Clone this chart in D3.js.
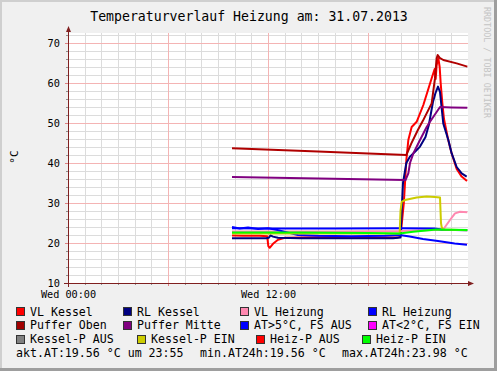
<!DOCTYPE html>
<html><head><meta charset="utf-8">
<script src="https://cdn.jsdelivr.net/npm/d3@7/dist/d3.min.js"></script>
<style>
body{margin:0;background:#f0f0f0}
svg{display:block}
text{font-family:"DejaVu Sans Mono",monospace;fill:#000}
</style>
</head><body>
<svg id="c" width="497" height="371"></svg>
<script>
// ---------- data (hour of day, °C) ----------
const title = "Temperaturverlauf Heizung am: 31.07.2013";
const yLabel = "°C";
const xTickHours = [0, 12];
const xTickLabels = ["Wed 00:00", "Wed 12:00"];
const yTickValues = [10, 20, 30, 40, 50, 60, 70];

const vlKessel = [[9.84,21.9],[10.5,21.8],[11.5,21.8],[11.95,21.7],[12.02,19.2],[12.1,18.8],[12.3,19.8],[12.6,20.8],[13.0,21.3],[14,21.4],[16,21.5],[18,21.4],[19.8,21.4],[19.95,21.6],[20.15,30],[20.3,40.7],[20.42,45.75],[20.62,49],[20.92,50.3],[21.32,54.5],[21.82,61.2],[22.0,63.5],[22.06,61],[22.12,64.5],[22.22,66.2],[22.3,64],[22.36,60],[22.46,55],[22.56,51],[22.8,46],[23.02,42.4],[23.32,38.5],[23.62,36.6],[23.94,35.5]];
const rlKessel = [[9.84,21.2],[11.9,21.2],[12.05,21.3],[12.15,21.9],[12.3,21.6],[12.6,21.3],[14,21.2],[17,21.2],[19.5,21.2],[19.95,21.4],[20.02,28],[20.1,35],[20.3,40],[20.52,41.6],[20.82,42.8],[21.12,44.1],[21.45,46.5],[21.65,49.5],[21.9,55.3],[22.05,57.5],[22.2,59.1],[22.32,57.8],[22.42,53.7],[22.52,49.8],[22.82,45.75],[23.02,42.4],[23.32,39],[23.62,37.4],[23.92,36.6]];
const vlHeizung = [[9.84,22.9],[16,22.9],[20,23.0],[22.5,23.3],[22.62,24],[22.92,25.75],[23.22,27.4],[23.52,27.8],[23.96,27.7]];
const rlHeizung = [[9.84,23.7],[12,23.6],[16,23.6],[20,23.7],[22,23.6],[22.5,23.3],[23.96,23.2]];
const pufferOben = [[9.84,43.7],[15,42.9],[20.3,42.0],[20.6,44.9],[21.0,48.3],[21.3,50.6],[21.82,54.9],[22.02,61.2],[22.12,66.2],[22.18,67],[22.3,66.3],[22.52,65.75],[23.32,64.9],[23.96,64.1]];
const pufferMitte = [[9.84,36.5],[20.25,35.75],[20.42,37.4],[20.52,40],[20.72,42.4],[21.12,45.75],[21.52,49],[21.72,50.3],[22.32,54],[23,53.9],[23.96,53.8]];
const aussen = [[9.84,23.98],[10.3,23.6],[10.8,23.9],[11.4,23.5],[12,23.7],[12.5,23.3],[13.2,22.6],[13.8,22.0],[15,21.8],[17,21.7],[19,21.8],[19.9,22.0],[20.5,21.6],[21.3,21.0],[22.2,20.5],[23.2,19.9],[23.94,19.56]];
const kesselP = [[9.84,22.4],[19.9,22.4],[19.95,28],[20.02,30.3],[20.22,30.75],[20.92,31.4],[21.52,31.6],[22.0,31.5],[22.32,31.4],[22.38,25],[22.42,24],[22.5,23.4],[23.96,23.2]];
const heizP = [[9.84,22.6],[14,22.6],[18,22.5],[19.9,22.4],[20.7,22.8],[22.1,23.4],[23.96,23.25]];

const legendNames = ["VL Kessel","RL Kessel","VL Heizung","RL Heizung","Puffer Oben","Puffer Mitte","AT>5°C, FS AUS","AT<2°C, FS EIN","Kessel-P AUS","Kessel-P EIN","Heiz-P AUS","Heiz-P EIN"];
const legendColors = ["#ff0000","#000080","#ff88b0","#0000ff","#a00000","#800080","#0000ff","#ff00ff","#808080","#cccc00","#ff0000","#00ff00"];
const footer = ["akt.AT:19.56 °C um 23:55","min.AT24h:19.56 °C","max.AT24h:23.98 °C"];

// ---------- drawing ----------
const svg = d3.select("#c");
const W = 497, H = 371;
const L = 68, R = 468, T = 33, B = 283;
const x = d3.scaleLinear().domain([0,24]).range([L,R]);
const y = d3.scaleLinear().domain([10,72.5]).range([B,T]);

svg.append("rect").attr("width",W).attr("height",H).attr("fill","#f0f0f0");
// frame
svg.append("rect").attr("x",0).attr("y",0).attr("width",W).attr("height",2).attr("fill","#cfcfcf");
svg.append("rect").attr("x",0).attr("y",0).attr("width",2).attr("height",H).attr("fill","#cfcfcf");
svg.append("rect").attr("x",W-3).attr("y",0).attr("width",3).attr("height",H).attr("fill","#9e9e9e");
svg.append("rect").attr("x",0).attr("y",H-3).attr("width",W).attr("height",3).attr("fill","#9e9e9e");

svg.append("rect").attr("x",L).attr("y",T).attr("width",R-L).attr("height",B-T).attr("fill","#ffffff");

const g = svg.append("g").attr("shape-rendering","crispEdges");
// minor grid
d3.range(1,24).filter(h=>h%6!==0).forEach(h=>{
  g.append("line").attr("x1",Math.round(x(h))+0.5).attr("x2",Math.round(x(h))+0.5).attr("y1",T).attr("y2",B)
   .attr("stroke","#dcdcdc");
});
d3.range(12,73,2).filter(v=>v%10!==0).forEach(v=>{
  g.append("line").attr("y1",Math.round(y(v))+0.5).attr("y2",Math.round(y(v))+0.5).attr("x1",L).attr("x2",R)
   .attr("stroke","#dcdcdc");
});
// major grid
[6,12,18].forEach(h=>{
  g.append("line").attr("x1",Math.round(x(h))+0.5).attr("x2",Math.round(x(h))+0.5).attr("y1",T).attr("y2",B)
   .attr("stroke","#f4b4b4");
});
yTickValues.filter(v=>v>10).forEach(v=>{
  g.append("line").attr("y1",Math.round(y(v))+0.5).attr("y2",Math.round(y(v))+0.5).attr("x1",L).attr("x2",R)
   .attr("stroke","#f4b4b4");
});

// series
const line = d3.line().x(d=>x(d[0])).y(d=>y(d[1]));
const series = [
  [vlKessel,"#ff0000"],[rlKessel,"#000080"],[vlHeizung,"#ff88b0"],[rlHeizung,"#0000ff"],
  [pufferOben,"#b00000"],[pufferMitte,"#800080"],[aussen,"#0000ff"],[kesselP,"#cccc00"],[heizP,"#00ff00"]
];
const sg = svg.append("g");
series.forEach(([data,col])=>{
  sg.append("path").attr("d",line(data)).attr("fill","none").attr("stroke",col)
    .attr("stroke-width",2).attr("stroke-linejoin","round");
});

// axes ticks
const ax = svg.append("g").attr("shape-rendering","crispEdges");
d3.range(0,25,1).forEach(h=>{
  ax.append("line").attr("x1",Math.round(x(h))+0.5).attr("x2",Math.round(x(h))+0.5)
    .attr("y1",B).attr("y2",B+(h%6===0?3:2)).attr("stroke",h%6===0?"#e08080":"#909090");
});
d3.range(10,73,2).forEach(v=>{
  ax.append("line").attr("y1",Math.round(y(v))+0.5).attr("y2",Math.round(y(v))+0.5)
    .attr("x1",L-(v%10===0?3:2)).attr("x2",L).attr("stroke",v%10===0?"#e08080":"#909090");
});
const axisCol = "#802020";
ax.append("line").attr("x1",L-4).attr("x2",R+2).attr("y1",B+0.5).attr("y2",B+0.5).attr("stroke",axisCol);
ax.append("line").attr("x1",L+0.5).attr("x2",L+0.5).attr("y1",B+4).attr("y2",T-3).attr("stroke",axisCol);
svg.append("path").attr("d",`M${R+6},${B+0.5}L${R},${B-2}L${R},${B+3}Z`).attr("fill",axisCol);
svg.append("path").attr("d",`M${L+0.5},${T-7}L${L-2},${T-1}L${L+3},${T-1}Z`).attr("fill",axisCol);

// tick labels via d3 axes (lines hidden)
const yAxis = d3.axisLeft(y).tickValues(yTickValues).tickSize(0).tickPadding(0).tickFormat(d3.format("d"));
const ya = svg.append("g").attr("transform",`translate(${L-8},0)`).call(yAxis);
ya.select(".domain").remove();
ya.selectAll("text").attr("font-size","10.3px").attr("font-family","DejaVu Sans Mono").attr("fill","#000").attr("dy","0.36em");

const xAxis = d3.axisBottom(x).tickValues(xTickHours).tickSize(0).tickPadding(0)
  .tickFormat((d,i)=>xTickLabels[i]);
const xa = svg.append("g").attr("transform",`translate(0,${B+7})`).call(xAxis);
xa.select(".domain").remove();
xa.selectAll("text").attr("font-size","10.2px").attr("font-family","DejaVu Sans Mono").attr("fill","#000").attr("dy","0.75em");

// title
svg.append("text").attr("x",249).attr("y",21).attr("text-anchor","middle").attr("font-size","13.2px").text(title);
// y label
svg.append("text").attr("transform","translate(18,157) rotate(-90)").attr("text-anchor","middle")
  .attr("font-size","11px").text(yLabel);
// watermark
svg.append("text").attr("transform","translate(484,7) rotate(90)").attr("font-size","8.4px")
  .style("fill","#c4c4c4").text("RRDTOOL / TOBI OETIKER");

// legend
const boxX = [[16,123,240,368],[16,123,240,368],[16,137,256,362]];
const rowBase = [315.5,329,343];
legendNames.forEach((n,i)=>{
  const r = Math.floor(i/4), c = i%4;
  const bx = boxX[r][c], by = rowBase[r]-8.5;
  svg.append("rect").attr("x",bx+0.5).attr("y",by+0.5).attr("width",8).attr("height",8)
    .attr("fill",legendColors[i]).attr("stroke","#333").attr("shape-rendering","crispEdges");
  svg.append("text").attr("x",bx+14).attr("y",rowBase[r]).attr("font-size","11.6px").text(n);
});
const footX = [16,200,342];
footer.forEach((t,i)=>{
  svg.append("text").attr("x",footX[i]).attr("y",357).attr("font-size","11.6px").text(t);
});
</script>
</body></html>
